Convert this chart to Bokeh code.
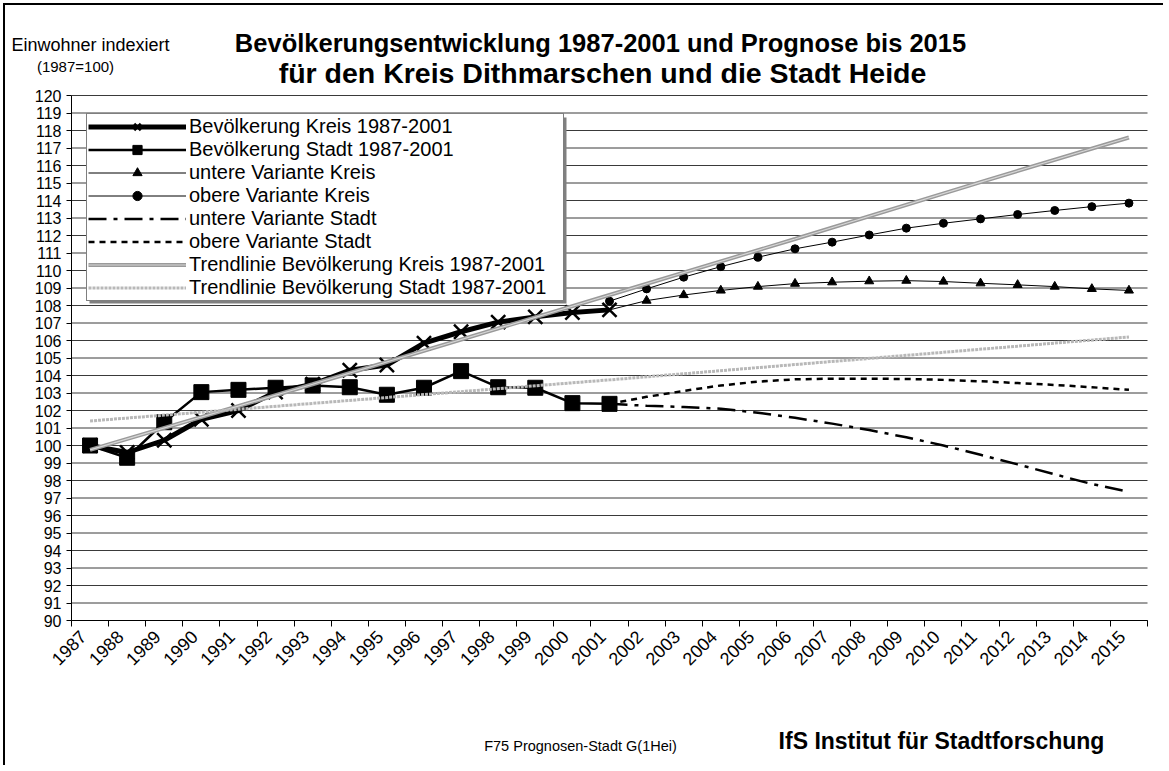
import math
from bokeh.plotting import figure
from bokeh.models import Range1d, FixedTicker, Legend, LegendItem, Label, BoxAnnotation
from bokeh.core.properties import value
from bokeh.embed import file_html
from bokeh.resources import INLINE

FONT = "Liberation Sans"

# ---- data ----
years_all = list(range(1987, 2016))
years_hist = list(range(1987, 2002))
years_prog = list(range(2001, 2016))

kreis = [100.0, 99.6, 100.3, 101.5, 102.0, 103.05, 103.5, 104.3, 104.6, 105.85,
         106.5, 107.05, 107.35, 107.6, 107.75]
stadt = [100.0, 99.3, 101.33, 103.05, 103.18, 103.3, 103.43, 103.33, 102.9, 103.3,
         104.25, 103.33, 103.3, 102.42, 102.38]

untere_kreis = [107.75, 108.28, 108.6, 108.86, 109.08, 109.25, 109.33, 109.39, 109.42,
                109.37, 109.27, 109.18, 109.08, 108.95, 108.86]
obere_kreis = [108.25, 108.95, 109.62, 110.22, 110.76, 111.24, 111.62, 112.03, 112.42,
               112.7, 112.95, 113.2, 113.43, 113.65, 113.85]
untere_stadt = [102.38, 102.27, 102.2, 102.1, 101.87, 101.58, 101.25, 100.88, 100.47,
                100.0, 99.47, 98.92, 98.35, 97.8, 97.35]
obere_stadt = [102.38, 102.78, 103.12, 103.43, 103.65, 103.78, 103.82, 103.82, 103.8,
               103.75, 103.67, 103.57, 103.46, 103.33, 103.18]

trend_kreis_years = [1987, 1993, 2001, 2006, 2011, 2015]
trend_kreis = [99.75, 103.5, 108.6, 111.8, 115.05, 117.6]
trend_stadt_years = [1987, 2001, 2015]
trend_stadt = [101.4, 103.75, 106.2]

y_ticks = list(range(90, 121))
x_labels = [str(y) for y in years_all]
labels = ["Bevölkerung Kreis 1987-2001", "Bevölkerung Stadt 1987-2001",
          "untere Variante Kreis", "obere Variante Kreis",
          "untere Variante Stadt", "obere Variante Stadt",
          "Trendlinie Bevölkerung Kreis 1987-2001",
          "Trendlinie Bevölkerung Stadt 1987-2001"]

# ---- layout geometry (page pixels) ----
PX0, PY0 = 5, 5            # canvas origin on the page
W, H = 1160, 762           # canvas size
L, R, T, B = 71, 1147, 95, 620   # plot area on the page

xmin, xmax = years_all[0] - 0.5, years_all[-1] + 0.5
ymin, ymax = y_ticks[0], y_ticks[-1]
ppx = (R - L) / (xmax - xmin)
ppy = (B - T) / (ymax - ymin)
x_range = Range1d(xmin - (L - PX0) / ppx, xmax + (PX0 + W - R) / ppx)
y_range = Range1d(ymin - (PY0 + H - B) / ppy, ymax + (T - PY0) / ppy)


def sx(px):
    return px - PX0


def sy(py):
    return PY0 + H - py


p = figure(width=W, height=H, output_backend="svg", toolbar_location=None, title=None,
           x_range=x_range, y_range=y_range,
           min_border_left=0, min_border_right=0, min_border_top=0, min_border_bottom=0,
           styles={"margin-left": "3px", "margin-top": "3px",
                   "border-left": "2px solid black", "border-top": "2px solid black"})
p.outline_line_color = None
p.background_fill_color = "white"
p.border_fill_color = "white"
p.xgrid.visible = False
p.ygrid.visible = False

# horizontal gridlines limited to the plot area
p.segment(x0=[xmin] * len(y_ticks), y0=y_ticks, x1=[xmax] * len(y_ticks), y1=y_ticks,
          line_color="#3a3a3a", line_width=1)

boundaries = [y - 0.5 for y in years_all] + [years_all[-1] + 0.5]
p.xaxis.fixed_location = ymin
p.xaxis.bounds = (xmin, xmax)
p.xaxis.ticker = FixedTicker(ticks=[], minor_ticks=boundaries)
p.xaxis.major_tick_line_color = None
p.xaxis.minor_tick_line_color = "black"
p.xaxis.minor_tick_out = 6
p.xaxis.minor_tick_in = 0
p.xaxis.axis_line_color = "black"

p.yaxis.fixed_location = xmin
p.yaxis.bounds = (ymin, ymax)
p.yaxis.ticker = FixedTicker(ticks=y_ticks)
p.yaxis.minor_tick_line_color = None
p.yaxis.major_tick_out = 5
p.yaxis.major_tick_in = 0
p.yaxis.major_tick_line_color = "black"
p.yaxis.major_label_text_font = FONT
p.yaxis.major_label_text_font_size = "16px"
p.yaxis.major_label_text_color = "black"
p.yaxis.axis_line_color = "black"

# rotated year labels (category centres)
p.text(x=years_all, y=[ymin] * len(years_all), text=x_labels, angle=math.pi / 4,
       text_align="right", text_baseline="middle", x_offset=-7, y_offset=13,
       text_font=value(FONT), text_font_size=value("18px"), text_color="black")

# ---- series ----
rk_l = p.line(years_hist, kreis, line_width=5, color="black")
rk_m = p.scatter(years_hist, kreis, marker="x", size=20, line_width=2.5, color="black")
rs_l = p.line(years_hist, stadt, line_width=2.5, color="black")
rs_m = p.scatter(years_hist, stadt, marker="square", size=15, color="black")
ruk_l = p.line(years_prog, untere_kreis, line_width=1, color="black")
ruk_m = p.scatter(years_prog[1:], untere_kreis[1:], marker="triangle", size=9, color="black")
rok_l = p.line(years_prog, obere_kreis, line_width=1, color="black")
rok_m = p.scatter(years_prog, obere_kreis, marker="circle", size=8, color="black")
rus_l = p.line(years_prog, untere_stadt, line_width=2.5, color="black", line_dash="18 7 4 7")
ros_l = p.line(years_prog, obere_stadt, line_width=2.5, color="black", line_dash="6 5")
rtk_l = p.line(trend_kreis_years, trend_kreis, line_width=4, color="#9a9a9a")
rtk_c = p.line(trend_kreis_years, trend_kreis, line_width=1.2, color="#d6d6d6")
rts_l = p.line(trend_stadt_years, trend_stadt, line_width=3, color="#b8b8b8", line_dash="3 1")

# legend shadow
p.add_layout(BoxAnnotation(left=sx(89), right=sx(566), top=sy(117), bottom=sy(303),
                           left_units="screen", right_units="screen",
                           top_units="screen", bottom_units="screen",
                           fill_color="#808080", fill_alpha=1.0, line_color=None))

items = [
    LegendItem(label=labels[0], renderers=[rk_l, rk_m]),
    LegendItem(label=labels[1], renderers=[rs_l, rs_m]),
    LegendItem(label=labels[2], renderers=[ruk_l, ruk_m]),
    LegendItem(label=labels[3], renderers=[rok_l, rok_m]),
    LegendItem(label=labels[4], renderers=[rus_l]),
    LegendItem(label=labels[5], renderers=[ros_l]),
    LegendItem(label=labels[6], renderers=[rtk_l, rtk_c]),
    LegendItem(label=labels[7], renderers=[rts_l]),
]
legend = Legend(items=items, location=(sx(86), sy(301)), padding=1, spacing=0, margin=0,
                glyph_width=98, glyph_height=23, label_height=23, label_width=373,
                label_standoff=3, label_text_font=FONT, label_text_font_size="20px",
                label_text_color="black", border_line_color="black", border_line_width=1,
                background_fill_color="white", background_fill_alpha=1.0)
p.add_layout(legend, "center")


# ---- texts ----
def add_text(px, py, text, size, bold=False, align="center"):
    p.add_layout(Label(x=sx(px), y=sy(py), x_units="screen", y_units="screen", text=text,
                       text_align=align, text_baseline="middle", text_font=FONT,
                       text_font_size=size, text_font_style="bold" if bold else "normal",
                       text_color="black"))


add_text(600, 42, "Bevölkerungsentwicklung 1987-2001 und Prognose bis 2015", "25.5px", True)
add_text(602, 72, "für den Kreis Dithmarschen und die Stadt Heide", "28.5px", True)
add_text(90, 44, "Einwohner indexiert", "18px")
add_text(75, 66, "(1987=100)", "15px")
add_text(580, 745, "F75 Prognosen-Stadt G(1Hei)", "14.5px")
add_text(941, 740, "IfS Institut für Stadtforschung", "23px", True)

open("out.html", "w").write(file_html(p, INLINE))
